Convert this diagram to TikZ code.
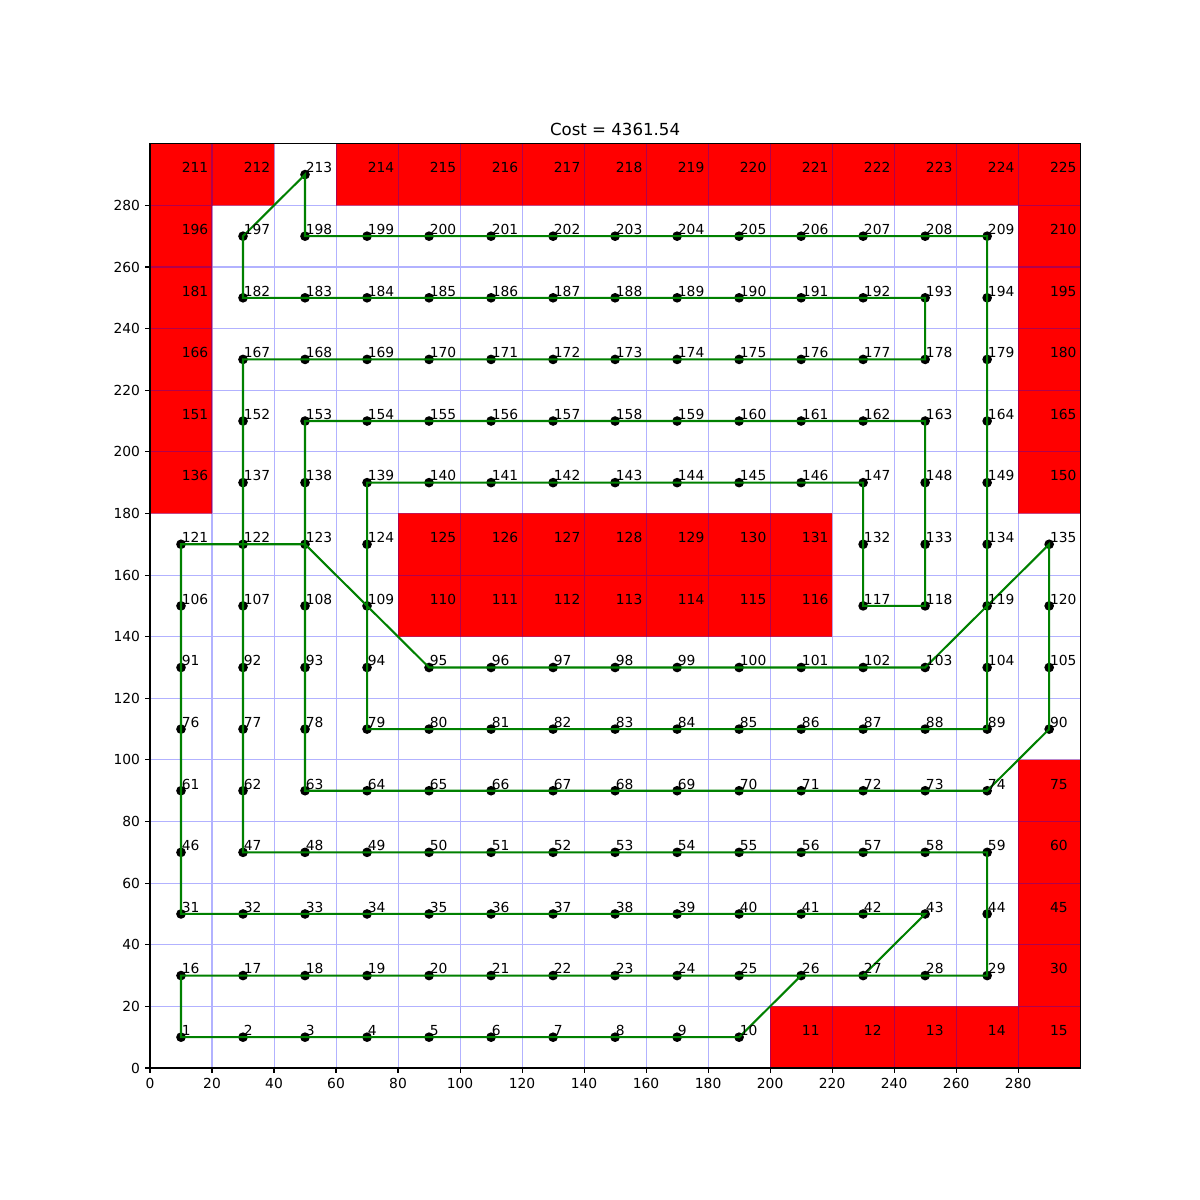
\documentclass[tikz,border=0pt]{standalone}
\usepackage{fontspec}
\setmainfont{DejaVu Sans}
\definecolor{pathgreen}{RGB}{0,128,0}
\definecolor{obstred}{RGB}{255,0,0}
\definecolor{gridblue}{RGB}{178,178,255}
\definecolor{gridonred}{RGB}{178,0,77}

\begin{document}
\begin{tikzpicture}[x=0.031in,y=0.0308in,font=\fontsize{10}{12}\selectfont,
  dot/.style={circle,fill=black,inner sep=0pt,minimum size=7pt},
  cellnum/.style={anchor=base west,inner sep=0pt},
  route/.style={draw=pathgreen,line width=1.5pt},
  gridline/.style={line width=0.75pt},
  tick/.style={line width=0.8pt},
  ticknum/.style={inner sep=0pt}]
\useasboundingbox (-1.5in,-1.32in) rectangle (10.5in,10.68in);
% grid
\foreach \v in {20,40,...,280}{
  \draw[gridline,gridblue] (\v,0) -- (\v,300);
  \draw[gridline,gridblue] (0,\v) -- (300,\v);
}
% obstacles
\fill[obstred] (200,0) rectangle (300,20) (280,0) rectangle (300,100)
  (80,140) rectangle (220,180) (0,180) rectangle (20,300)
  (280,180) rectangle (300,300) (0,280) rectangle (40,300)
  (60,280) rectangle (300,300);
\begin{scope}
\clip (200,0) rectangle (300,20) (280,0) rectangle (300,100)
  (80,140) rectangle (220,180) (0,180) rectangle (20,300)
  (280,180) rectangle (300,300) (0,280) rectangle (40,300)
  (60,280) rectangle (300,300);
\foreach \v in {20,40,...,280}{
  \draw[gridline,gridonred] (\v,0) -- (\v,300);
  \draw[gridline,gridonred] (0,\v) -- (300,\v);
}
\end{scope}
% cell centres
\foreach \k in {1,...,225}{
  \pgfmathtruncatemacro{\cc}{mod(\k-1,15)}
  \pgfmathtruncatemacro{\rr}{(\k-1)/15}
  \coordinate (p\k) at (10+20*\cc,10+20*\rr);
}
% free cells
\foreach \a/\b in {1/10,16/29,31/44,46/59,61/74,76/109,117/124,132/135,137/149,152/164,167/179,182/194,197/209,213/213}
  \foreach \k in {\a,...,\b}
    \node[dot] (c\k) at (p\k) {};
% tour
\draw[route] (p27) -- (p43) -- (p31) -- (p121) -- (p123) -- (p95) -- (p103)
  -- (p135) -- (p90) -- (p74) -- (p63) -- (p153) -- (p163) -- (p118) -- (p117)
  -- (p147) -- (p139) -- (p79) -- (p89) -- (p209) -- (p198) -- (p213) -- (p197)
  -- (p182) -- (p193) -- (p178) -- (p167) -- (p47) -- (p59) -- (p29) -- (p16)
  -- (p1) -- (p10) -- (p26) -- (p27);
% cell numbers
\foreach \k in {1,...,225}
  \node[cellnum,xshift=0.4pt,yshift=1.2pt] (n\k) at (p\k) {\k};
% axes
\draw[tick] (0,0) rectangle (300,300);
\foreach \v in {0,20,...,280}{
  \draw[tick] (\v,0) -- ++(0,-3.5pt);
  \node[ticknum,anchor=north,yshift=-7pt] (xt\v) at (\v,0) {\v};
  \draw[tick] (0,\v) -- ++(-3.5pt,0);
  \node[ticknum,anchor=east,xshift=-7pt] (yt\v) at (0,\v) {\v};
}
\node[anchor=base,yshift=6pt,font=\fontsize{12}{14}\selectfont] (title) at (150,300) {Cost = 4361.54};
\end{tikzpicture}
\end{document}
